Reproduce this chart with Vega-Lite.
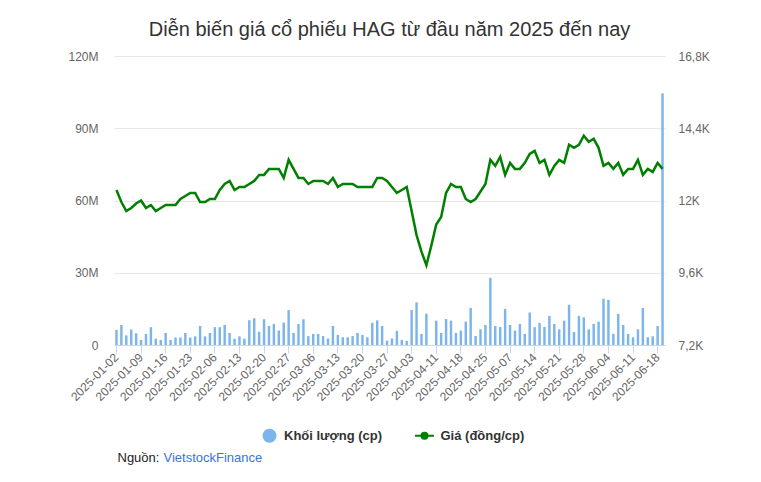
{
  "$schema": "https://vega.github.io/schema/vega-lite/v6.json",
  "width": 551,
  "height": 289,
  "autosize": {"type": "none"},
  "padding": {"left": 114, "top": 56, "right": 96, "bottom": 137},
  "background": "white",
  "config": {
    "font": "Liberation Sans",
    "view": {"stroke": null},
    "axis": {"labelFont": "Liberation Sans", "titleFont": "Liberation Sans"},
    "legend": {"labelFont": "Liberation Sans"}
  },
  "title": {
    "text": "Diễn biến giá cổ phiếu HAG từ đầu năm 2025 đến nay",
    "fontSize": 20,
    "fontWeight": "normal",
    "color": "#333333",
    "anchor": "middle",
    "frame": "group",
    "baseline": "alphabetic",
    "offset": -6,
    "font": "Liberation Sans"
  },
  "data": {
    "values": [
      {"date": "2025-01-02", "volume": 6300000, "price": 12350},
      {"date": "2025-01-03", "volume": 8300000, "price": 11950},
      {"date": "2025-01-06", "volume": 4000000, "price": 11650},
      {"date": "2025-01-07", "volume": 6400000, "price": 11750},
      {"date": "2025-01-08", "volume": 4900000, "price": 11900},
      {"date": "2025-01-09", "volume": 2100000, "price": 12000},
      {"date": "2025-01-10", "volume": 4600000, "price": 11750},
      {"date": "2025-01-13", "volume": 7400000, "price": 11850},
      {"date": "2025-01-14", "volume": 2600000, "price": 11650},
      {"date": "2025-01-15", "volume": 2100000, "price": 11750},
      {"date": "2025-01-16", "volume": 5000000, "price": 11850},
      {"date": "2025-01-17", "volume": 2100000, "price": 11850},
      {"date": "2025-01-20", "volume": 3100000, "price": 11850},
      {"date": "2025-01-21", "volume": 3100000, "price": 12050},
      {"date": "2025-01-22", "volume": 5000000, "price": 12150},
      {"date": "2025-01-23", "volume": 3100000, "price": 12250},
      {"date": "2025-01-24", "volume": 3600000, "price": 12250},
      {"date": "2025-02-03", "volume": 7900000, "price": 11950},
      {"date": "2025-02-04", "volume": 3600000, "price": 11950},
      {"date": "2025-02-05", "volume": 5000000, "price": 12050},
      {"date": "2025-02-06", "volume": 7400000, "price": 12050},
      {"date": "2025-02-07", "volume": 7400000, "price": 12350},
      {"date": "2025-02-10", "volume": 8300000, "price": 12550},
      {"date": "2025-02-11", "volume": 5000000, "price": 12650},
      {"date": "2025-02-12", "volume": 2600000, "price": 12350},
      {"date": "2025-02-13", "volume": 3600000, "price": 12450},
      {"date": "2025-02-14", "volume": 2600000, "price": 12450},
      {"date": "2025-02-17", "volume": 10300000, "price": 12550},
      {"date": "2025-02-18", "volume": 11100000, "price": 12650},
      {"date": "2025-02-19", "volume": 5500000, "price": 12850},
      {"date": "2025-02-20", "volume": 10700000, "price": 12850},
      {"date": "2025-02-21", "volume": 7900000, "price": 13050},
      {"date": "2025-02-24", "volume": 8750000, "price": 13050},
      {"date": "2025-02-25", "volume": 6000000, "price": 13050},
      {"date": "2025-02-26", "volume": 9300000, "price": 12750},
      {"date": "2025-02-27", "volume": 14500000, "price": 13350},
      {"date": "2025-02-28", "volume": 5000000, "price": 13050},
      {"date": "2025-03-03", "volume": 8750000, "price": 12750},
      {"date": "2025-03-04", "volume": 10700000, "price": 12750},
      {"date": "2025-03-05", "volume": 3700000, "price": 12550},
      {"date": "2025-03-06", "volume": 4600000, "price": 12650},
      {"date": "2025-03-07", "volume": 4600000, "price": 12650},
      {"date": "2025-03-10", "volume": 3700000, "price": 12650},
      {"date": "2025-03-11", "volume": 2700000, "price": 12550},
      {"date": "2025-03-12", "volume": 7900000, "price": 12750},
      {"date": "2025-03-13", "volume": 4200000, "price": 12450},
      {"date": "2025-03-14", "volume": 3200000, "price": 12550},
      {"date": "2025-03-17", "volume": 3200000, "price": 12550},
      {"date": "2025-03-18", "volume": 3700000, "price": 12550},
      {"date": "2025-03-19", "volume": 5000000, "price": 12450},
      {"date": "2025-03-20", "volume": 4200000, "price": 12450},
      {"date": "2025-03-21", "volume": 3200000, "price": 12450},
      {"date": "2025-03-24", "volume": 9200000, "price": 12450},
      {"date": "2025-03-25", "volume": 10200000, "price": 12750},
      {"date": "2025-03-26", "volume": 7900000, "price": 12750},
      {"date": "2025-03-27", "volume": 1800000, "price": 12650},
      {"date": "2025-03-28", "volume": 2700000, "price": 12450},
      {"date": "2025-03-31", "volume": 5900000, "price": 12250},
      {"date": "2025-04-01", "volume": 2100000, "price": 12350},
      {"date": "2025-04-02", "volume": 1700000, "price": 12450},
      {"date": "2025-04-03", "volume": 14500000, "price": 11650},
      {"date": "2025-04-04", "volume": 17700000, "price": 10850},
      {"date": "2025-04-08", "volume": 4600000, "price": 10300},
      {"date": "2025-04-09", "volume": 13000000, "price": 9850},
      {"date": "2025-04-10", "volume": 0, "price": 10500},
      {"date": "2025-04-11", "volume": 10100000, "price": 11200},
      {"date": "2025-04-14", "volume": 5000000, "price": 11450},
      {"date": "2025-04-15", "volume": 10800000, "price": 12250},
      {"date": "2025-04-16", "volume": 10100000, "price": 12550},
      {"date": "2025-04-17", "volume": 5000000, "price": 12450},
      {"date": "2025-04-18", "volume": 6000000, "price": 12450},
      {"date": "2025-04-21", "volume": 9700000, "price": 12050},
      {"date": "2025-04-22", "volume": 15400000, "price": 11950},
      {"date": "2025-04-23", "volume": 3750000, "price": 12050},
      {"date": "2025-04-24", "volume": 6500000, "price": 12300},
      {"date": "2025-04-25", "volume": 8300000, "price": 12550},
      {"date": "2025-04-28", "volume": 27900000, "price": 13350},
      {"date": "2025-04-29", "volume": 7900000, "price": 13150},
      {"date": "2025-05-05", "volume": 7500000, "price": 13450},
      {"date": "2025-05-06", "volume": 15000000, "price": 12850},
      {"date": "2025-05-07", "volume": 8300000, "price": 13250},
      {"date": "2025-05-08", "volume": 6000000, "price": 13050},
      {"date": "2025-05-09", "volume": 8750000, "price": 13050},
      {"date": "2025-05-12", "volume": 4600000, "price": 13250},
      {"date": "2025-05-13", "volume": 13500000, "price": 13550},
      {"date": "2025-05-14", "volume": 7400000, "price": 13650},
      {"date": "2025-05-15", "volume": 9200000, "price": 13250},
      {"date": "2025-05-16", "volume": 7500000, "price": 13350},
      {"date": "2025-05-19", "volume": 12100000, "price": 12850},
      {"date": "2025-05-20", "volume": 8750000, "price": 13150},
      {"date": "2025-05-21", "volume": 6500000, "price": 13350},
      {"date": "2025-05-22", "volume": 10100000, "price": 13250},
      {"date": "2025-05-23", "volume": 16700000, "price": 13850},
      {"date": "2025-05-26", "volume": 5400000, "price": 13750},
      {"date": "2025-05-27", "volume": 12100000, "price": 13850},
      {"date": "2025-05-28", "volume": 11500000, "price": 14150},
      {"date": "2025-05-29", "volume": 6500000, "price": 13950},
      {"date": "2025-05-30", "volume": 8750000, "price": 14050},
      {"date": "2025-06-02", "volume": 9700000, "price": 13750},
      {"date": "2025-06-03", "volume": 19200000, "price": 13150},
      {"date": "2025-06-04", "volume": 18750000, "price": 13250},
      {"date": "2025-06-05", "volume": 4600000, "price": 13050},
      {"date": "2025-06-06", "volume": 12900000, "price": 13250},
      {"date": "2025-06-09", "volume": 8300000, "price": 12850},
      {"date": "2025-06-10", "volume": 4600000, "price": 13050},
      {"date": "2025-06-11", "volume": 3200000, "price": 13050},
      {"date": "2025-06-12", "volume": 6500000, "price": 13350},
      {"date": "2025-06-13", "volume": 15400000, "price": 12850},
      {"date": "2025-06-16", "volume": 3200000, "price": 13050},
      {"date": "2025-06-17", "volume": 3600000, "price": 12950},
      {"date": "2025-06-18", "volume": 7900000, "price": 13250},
      {"date": "2025-06-19", "volume": 104500000, "price": 13050}
    ]
  },
  "encoding": {
    "x": {
      "field": "date",
      "type": "ordinal",
      "sort": null,
      "scale": {"paddingInner": 0.5, "paddingOuter": 0.25},
      "axis": {
        "values": ["2025-01-02", "2025-01-09", "2025-01-16", "2025-01-23", "2025-02-06", "2025-02-13", "2025-02-20", "2025-02-27", "2025-03-06", "2025-03-13", "2025-03-20", "2025-03-27", "2025-04-03", "2025-04-11", "2025-04-18", "2025-04-25", "2025-05-07", "2025-05-14", "2025-05-21", "2025-05-28", "2025-06-04", "2025-06-11", "2025-06-18"],
        "labelAngle": -45,
        "labelAlign": "right",
        "labelBaseline": "middle",
        "labelFontSize": 12,
        "labelColor": "#666666",
        "labelPadding": 2,
        "labelOverlap": false,
        "domainColor": "#ccd6eb",
        "tickColor": "#ccd6eb",
        "tickSize": 8,
        "grid": false,
        "title": "VietstockFinance",
        "titleX": 49,
        "titleY": 116,
        "titleAlign": "left",
        "titleBaseline": "alphabetic",
        "titleFontSize": 13,
        "titleFontWeight": "normal",
        "titleColor": "#3a74d6"
      }
    }
  },
  "layer": [
    {
      "mark": {"type": "bar"},
      "encoding": {
        "y": {
          "field": "volume",
          "type": "quantitative",
          "scale": {"domain": [0, 120000000], "nice": false, "zero": true},
          "axis": {
            "orient": "left",
            "values": [0, 30000000, 60000000, 90000000, 120000000],
            "labelExpr": "datum.value == 0 ? '0' : (datum.value / 1000000) + 'M'",
            "grid": true,
            "gridColor": "#e6e6e6",
            "domain": false,
            "ticks": false,
            "tickSize": 0,
            "labelPadding": 16,
            "labelFontSize": 12,
            "labelColor": "#666666",
            "title": "Nguồn:",
            "titleAngle": 0,
            "titleX": 3,
            "titleY": 405,
            "titleAlign": "left",
            "titleBaseline": "alphabetic",
            "titleFontSize": 13,
            "titleFontWeight": "normal",
            "titleColor": "#222222"
          }
        },
        "color": {
          "datum": "Khối lượng (cp)",
          "scale": {"domain": ["Khối lượng (cp)", "Giá (đồng/cp)"], "range": ["#7cb5ec", "#008000"]},
          "legend": {
            "orient": "none",
            "legendX": 149,
            "legendY": 373,
            "direction": "horizontal",
            "title": null,
            "symbolSize": 196,
            "symbolType": "circle",
            "labelFontSize": 13,
            "labelFontWeight": "bold",
            "labelColor": "#333333",
            "labelOffset": 8,
            "columnPadding": 27,
            "padding": 0,
            "encode": {
              "symbols": {
                "update": {
                  "shape": {"signal": "datum.value == 'Giá (đồng/cp)' ? 'M-1.36,0L1.36,0M-0.43,0A0.43,0.43,0,1,1,0.43,0A0.43,0.43,0,1,1,-0.43,0Z' : 'circle'"},
                  "fill": {"signal": "datum.value == 'Giá (đồng/cp)' ? '#008000' : '#7cb5ec'"},
                  "stroke": {"signal": "datum.value == 'Giá (đồng/cp)' ? '#008000' : '#7cb5ec'"},
                  "strokeWidth": {"signal": "datum.value == 'Giá (đồng/cp)' ? 2 : 0"},
                  "opacity": {"value": 1},
                  "fillOpacity": {"value": 1}
                }
              },
              "labels": {
                "update": {
                  "dx": {"signal": "datum.value == 'Giá (đồng/cp)' ? 1.5 : 0"}
                }
              }
            }
          }
        }
      }
    },
    {
      "mark": {"type": "line", "strokeWidth": 2.5, "interpolate": "linear"},
      "encoding": {
        "y": {
          "field": "price",
          "type": "quantitative",
          "scale": {"domain": [7200, 16800], "nice": false, "zero": false},
          "axis": {
            "orient": "right",
            "values": [7200, 9600, 12000, 14400, 16800],
            "labelExpr": "replace(format(datum.value / 1000, '.1~f'), '.', ',') + 'K'",
            "grid": false,
            "domain": false,
            "ticks": false,
            "tickSize": 0,
            "labelPadding": 13,
            "labelFontSize": 12,
            "labelColor": "#666666",
            "title": null
          }
        },
        "color": {"datum": "Giá (đồng/cp)"}
      }
    }
  ],
  "resolve": {"scale": {"y": "independent"}}
}
